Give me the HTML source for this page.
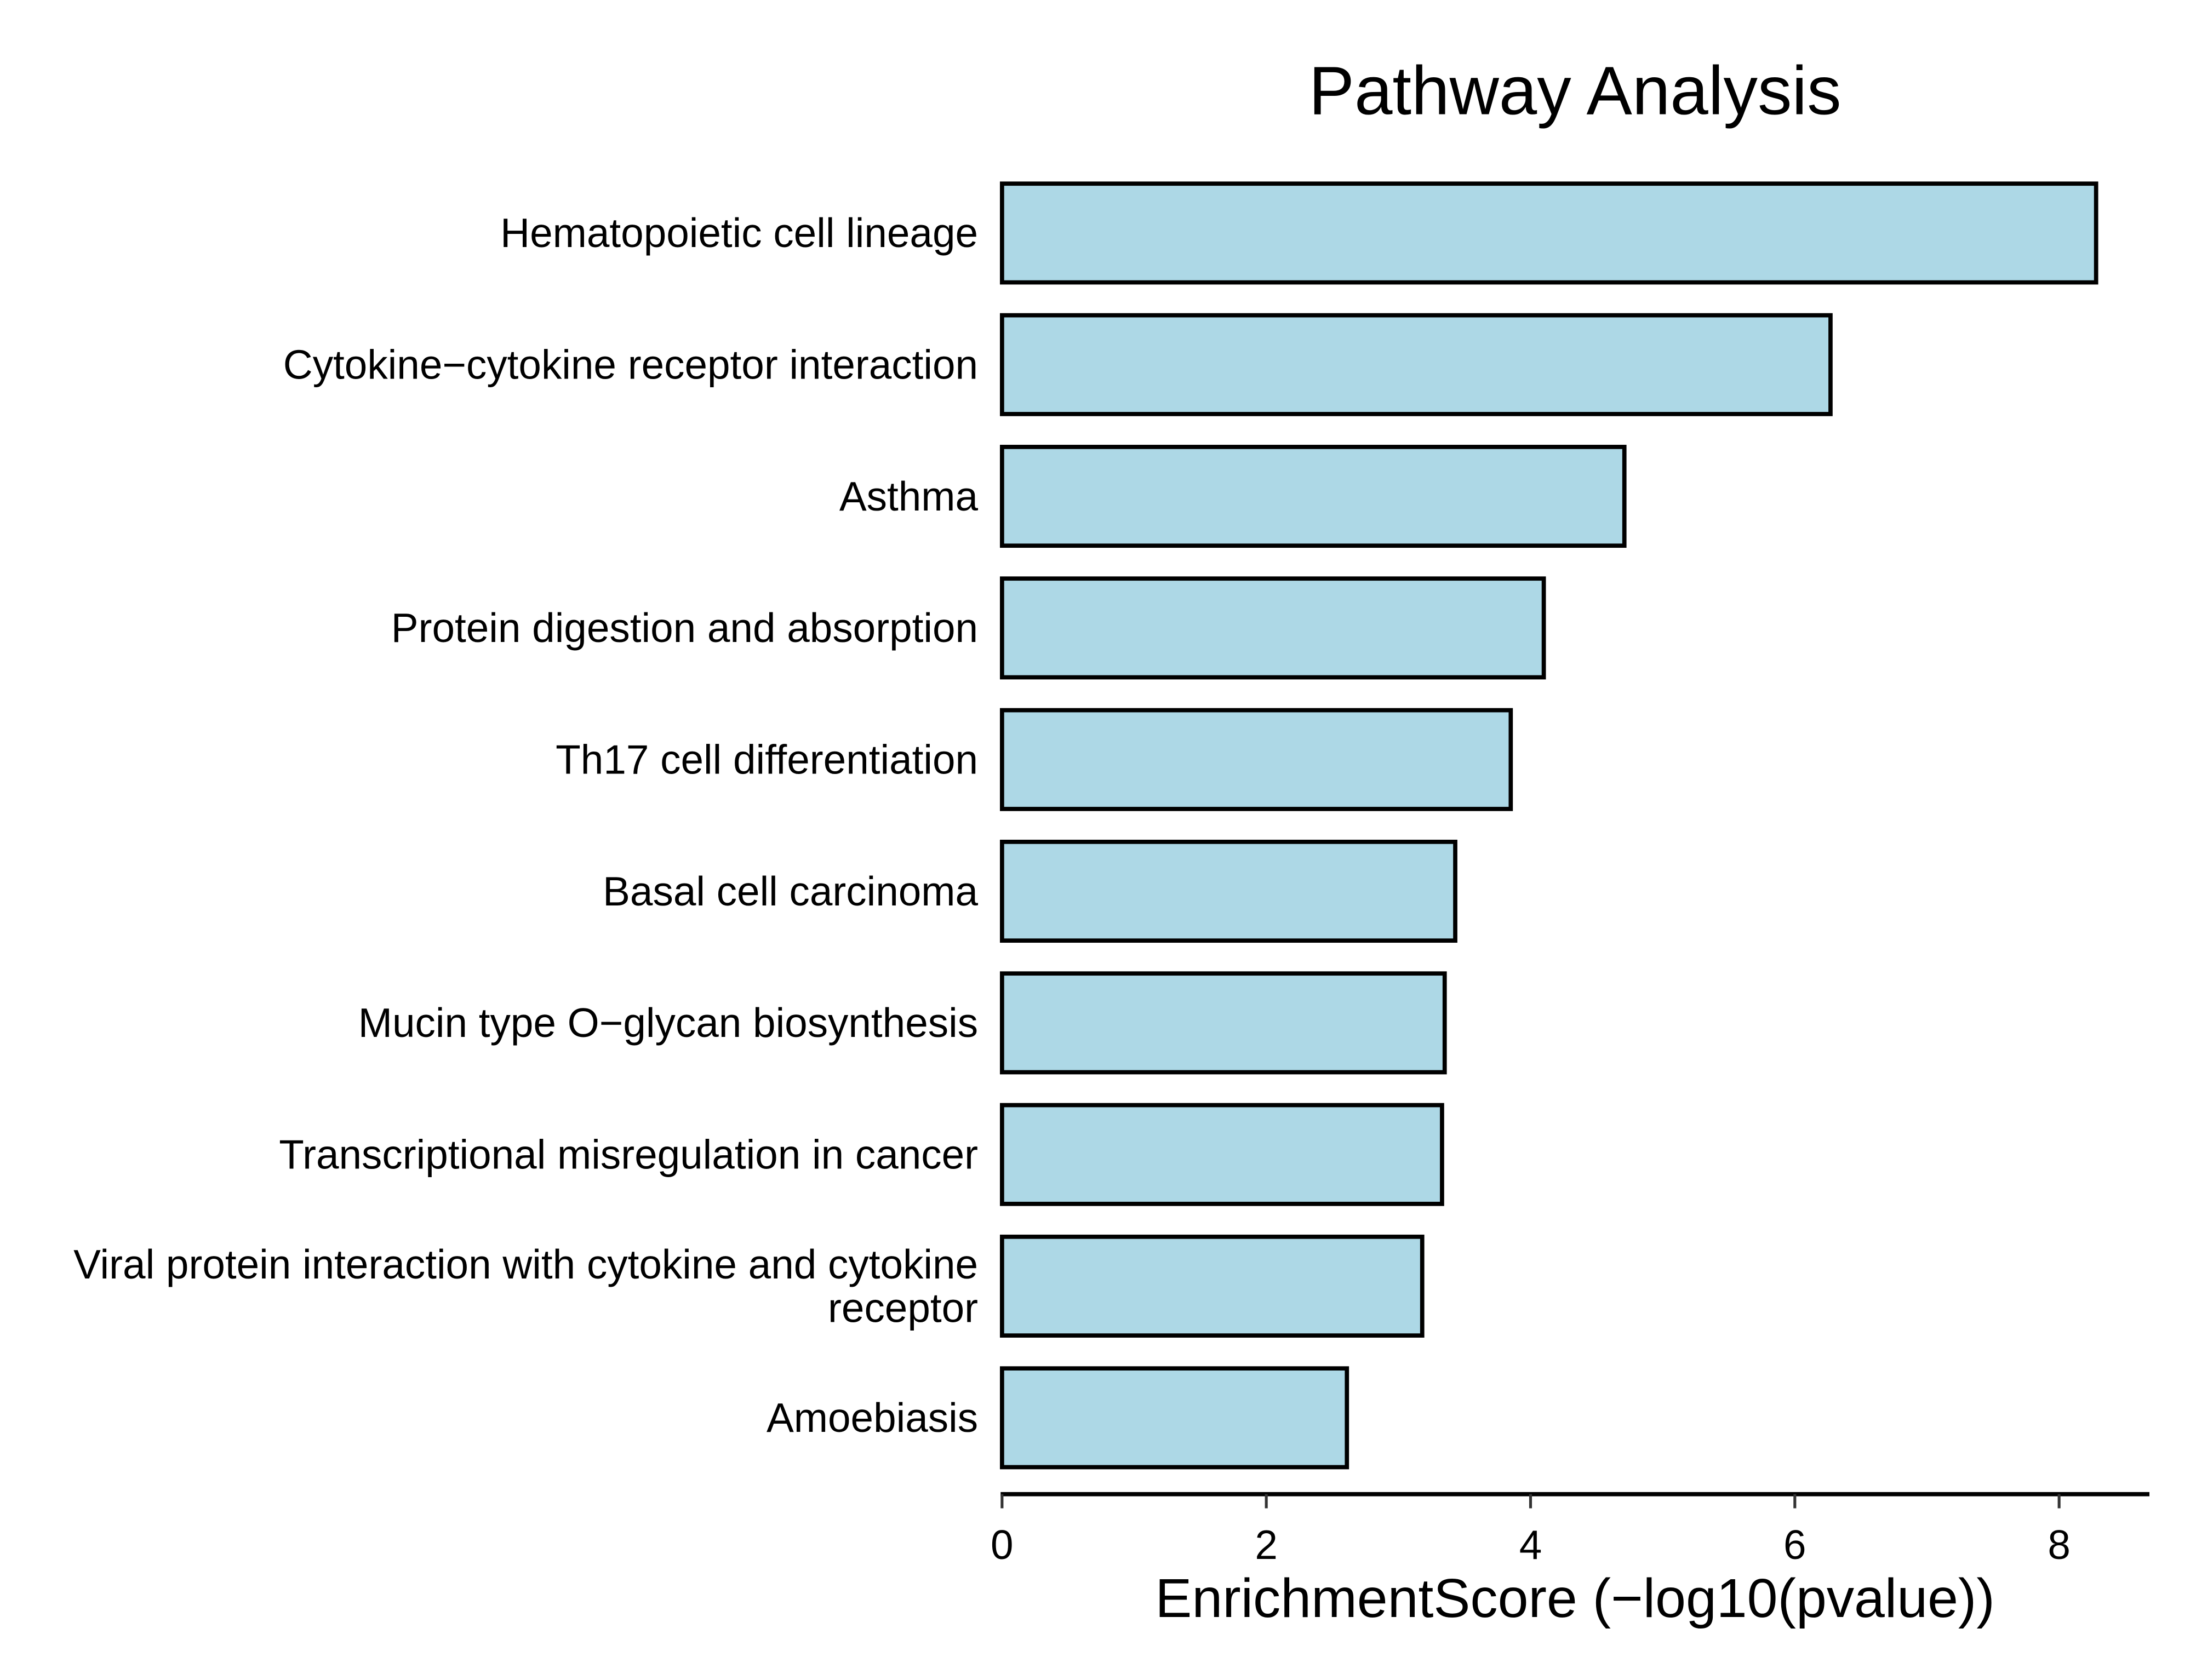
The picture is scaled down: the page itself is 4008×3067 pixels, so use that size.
<!DOCTYPE html>
<html><head><meta charset="utf-8"><style>
html,body{margin:0;padding:0;background:#fff;}
svg{display:block;font-family:"Liberation Sans",Arial,sans-serif;}
</style></head><body>
<svg id="chart" width="4008" height="3067" viewBox="0 0 1556 1190.7" preserveAspectRatio="none" xmlns="http://www.w3.org/2000/svg">
<rect width="1556" height="1190.7" fill="#fff"/>
<text x="1116" y="81" font-size="48.5" text-anchor="middle">Pathway Analysis</text>
<g id="bars"></g>
<g id="labels"></g>
<line x1="709" y1="1059" x2="1523" y2="1059" stroke="#000" stroke-width="3"/>
<g id="ticks"></g>
<text x="1116" y="1146" font-size="39" text-anchor="middle">EnrichmentScore (−log10(pvalue))</text>
</svg>
<script>
const categories = ["Hematopoietic cell lineage","Cytokine−cytokine receptor interaction","Asthma","Protein digestion and absorption","Th17 cell differentiation","Basal cell carcinoma","Mucin type O−glycan biosynthesis","Transcriptional misregulation in cancer","Viral protein interaction with cytokine and cytokine|receptor","Amoebiasis"];
const values = [8.28, 6.27, 4.71, 4.10, 3.85, 3.43, 3.35, 3.33, 3.18, 2.61];
const tickValues = [0, 2, 4, 6, 8];
const tickLabels = ["0", "2", "4", "6", "8"];

const NS = "http://www.w3.org/2000/svg";
const x0 = 710, xUnit = (1459 - 710) / 8;
const xScale = v => x0 + v * xUnit;
const yTop = 118.5, band = 93.3;
const yCenter = i => yTop + band * (i + 0.5);
const barH = 70;

const gb = document.getElementById('bars');
const gl = document.getElementById('labels');
categories.forEach((c, i) => {
  const r = document.createElementNS(NS, 'rect');
  r.setAttribute('x', xScale(0));
  r.setAttribute('y', yCenter(i) - barH / 2);
  r.setAttribute('width', xScale(values[i]) - xScale(0));
  r.setAttribute('height', barH);
  r.setAttribute('fill', '#add8e6');
  r.setAttribute('stroke', '#000');
  r.setAttribute('stroke-width', '3');
  
  
  gb.appendChild(r);

  const lines = c.split('|');
  const t = document.createElementNS(NS, 'text');
  t.setAttribute('text-anchor', 'end');
  t.setAttribute('font-size', '29');
  
  
  const lh = 31;
  const startY = yCenter(i) + 10 - (lines.length - 1) * lh / 2;
  lines.forEach((ln, k) => {
    const ts = document.createElementNS(NS, 'tspan');
    ts.setAttribute('x', 693);
    ts.setAttribute('y', startY + k * lh);
    ts.textContent = ln;
    t.appendChild(ts);
  });
  gl.appendChild(t);
});

const gt = document.getElementById('ticks');
tickValues.forEach((v, i) => {
  const l = document.createElementNS(NS, 'line');
  l.setAttribute('x1', xScale(v)); l.setAttribute('x2', xScale(v));
  l.setAttribute('y1', 1059); l.setAttribute('y2', 1069);
  l.setAttribute('stroke', '#333'); l.setAttribute('stroke-width', '2');
  
  
  gt.appendChild(l);
  const t = document.createElementNS(NS, 'text');
  t.setAttribute('x', xScale(v)); t.setAttribute('y', 1105);
  t.setAttribute('font-size', '29'); t.setAttribute('text-anchor', 'middle');
  
  
  t.textContent = tickLabels[i];
  gt.appendChild(t);
});
</script>
</body></html>
